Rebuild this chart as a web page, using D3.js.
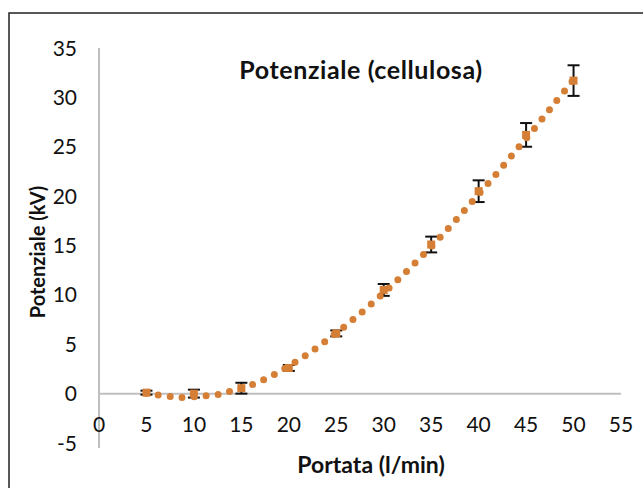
<!DOCTYPE html>
<html>
<head>
<meta charset="utf-8">
<script src="https://cdn.jsdelivr.net/npm/d3@7"></script>
<style>
  html, body { margin: 0; padding: 0; background: #fff; }
  svg { display: block; }
  text { font-family: Lato, "Open Sans", sans-serif; fill: #111; }
</style>
</head>
<body>
<svg id="chart" width="643" height="488"></svg>
<script>
// Measured flow rates (l/min) and potentials (kV) with their uncertainties
const portata = [5, 10, 15, 20, 25, 30, 35, 40, 45, 50];
const potenziale = [0.1, 0.0, 0.55, 2.6, 6.1, 10.5, 15.1, 20.5, 26.2, 31.7];
const errore = [0.2, 0.4, 0.55, 0.3, 0.3, 0.6, 0.8, 1.1, 1.2, 1.55];

// Trend curve sampled along the flow range
const trendX = [5, 6, 7.5, 8.5, 10, 11.5, 13, 14, 16, 18, 20, 22, 24, 26, 28, 30, 32, 34, 36, 38, 40, 42, 44, 46, 48, 50];
const trendY = [0.05, -0.1, -0.28, -0.38, -0.32, -0.2, 0.0, 0.3, 0.85, 1.7, 2.8, 4.0, 5.4, 6.9, 8.5, 10.2, 12.0, 13.9, 15.9, 18.0, 20.2, 22.4, 24.7, 27.0, 29.4, 31.8];

const xTicks = [0, 5, 10, 15, 20, 25, 30, 35, 40, 45, 50, 55];
const yTicks = [-5, 0, 5, 10, 15, 20, 25, 30, 35];

const titolo = "Potenziale (cellulosa)";
const titoloX = "Portata (l/min)";
const titoloY = "Potenziale (kV)";

const orange = "#d57f36";
const axisGrey = "#bfbfbf";

const svg = d3.select("#chart");

// Outer frame of the chart area
svg.append("rect")
  .attr("x", 9).attr("y", 13)
  .attr("width", 660).attr("height", 500)
  .attr("fill", "none")
  .attr("stroke", "#222")
  .attr("stroke-width", 1.5);

const x = d3.scaleLinear().domain([0, 55]).range([99, 621]);
const y = d3.scaleLinear().domain([-5, 35]).range([443, 48]);

// Vertical axis line
svg.append("line")
  .attr("x1", x(0)).attr("x2", x(0))
  .attr("y1", y(35)).attr("y2", y(-5) + 5)
  .attr("stroke", axisGrey).attr("stroke-width", 2);

// Horizontal axis line at zero
svg.append("line")
  .attr("x1", x(0)).attr("x2", x(55))
  .attr("y1", y(0)).attr("y2", y(0))
  .attr("stroke", axisGrey).attr("stroke-width", 2);

// Tick labels
svg.append("g").selectAll("text")
  .data(yTicks)
  .join("text")
  .attr("x", 77)
  .attr("y", d => y(d))
  .attr("dy", "0.36em")
  .attr("text-anchor", "end")
  .attr("font-size", 21)
  .text(d => d);

svg.append("g").selectAll("text")
  .data(xTicks)
  .join("text")
  .attr("x", d => x(d))
  .attr("y", 432)
  .attr("text-anchor", "middle")
  .attr("font-size", 21)
  .text(d => d);

// Titles
svg.append("text")
  .attr("x", 361).attr("y", 79)
  .attr("text-anchor", "middle")
  .attr("font-size", 25)
  .attr("letter-spacing", 0.6)
  .attr("font-weight", "bold")
  .text(titolo);

svg.append("text")
  .attr("x", 371).attr("y", 473)
  .attr("text-anchor", "middle")
  .attr("font-size", 23)
  .attr("font-weight", "bold")
  .text(titoloX);

svg.append("text")
  .attr("transform", `translate(45,${252}) rotate(-90)`)
  .attr("text-anchor", "middle")
  .attr("font-size", 20)
  .attr("font-weight", "bold")
  .text(titoloY);

const pts = portata.map((p, i) => ({ x: p, y: potenziale[i], e: errore[i] }));

// Error bars
const eb = svg.append("g").attr("stroke", "#111").attr("stroke-width", 2);
eb.selectAll("line.v").data(pts).join("line").attr("class", "v")
  .attr("x1", d => x(d.x)).attr("x2", d => x(d.x))
  .attr("y1", d => y(d.y + d.e)).attr("y2", d => y(d.y - d.e));
eb.selectAll("line.t").data(pts).join("line").attr("class", "t")
  .attr("x1", d => x(d.x) - 6).attr("x2", d => x(d.x) + 6)
  .attr("y1", d => y(d.y + d.e)).attr("y2", d => y(d.y + d.e));
eb.selectAll("line.b").data(pts).join("line").attr("class", "b")
  .attr("x1", d => x(d.x) - 6).attr("x2", d => x(d.x) + 6)
  .attr("y1", d => y(d.y - d.e)).attr("y2", d => y(d.y - d.e));

// Data markers
svg.append("g").selectAll("rect")
  .data(pts)
  .join("rect")
  .attr("x", d => x(d.x) - 4)
  .attr("y", d => y(d.y) - 4)
  .attr("width", 8).attr("height", 8)
  .attr("fill", orange);

// Dotted trend line
const trend = trendX.map((v, i) => [v, trendY[i]]);
svg.append("path")
  .datum(trend)
  .attr("d", d3.line().x(d => x(d[0])).y(d => y(d[1])).curve(d3.curveCatmullRom))
  .attr("fill", "none")
  .attr("stroke", orange)
  .attr("stroke-width", 7)
  .attr("stroke-linecap", "round")
  .attr("stroke-dasharray", "0 12");
</script>
</body>
</html>
